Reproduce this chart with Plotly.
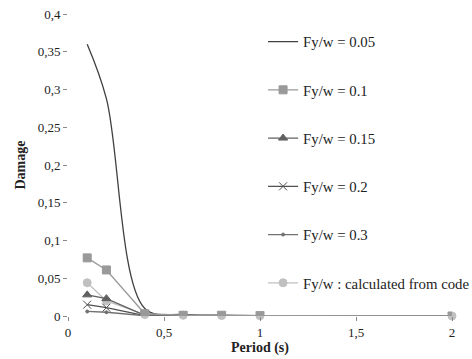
import plotly.graph_objects as go

period = [0.1, 0.2, 0.4, 0.6, 0.8, 1.0, 2.0]
d_005 = [0.360, 0.288, 0.010, 0.002, 0.001, 0.0005, 0.0]
d_010 = [0.077, 0.061, 0.003, 0.001, 0.001, 0.0005, 0.0]
d_015 = [0.028, 0.023, 0.001, 0.0005, 0.0003, 0.0002, 0.0]
d_020 = [0.015, 0.011, 0.0005, 0.0003, 0.0002, 0.0001, 0.0]
d_030 = [0.006, 0.005, 0.0003, 0.0002, 0.0001, 0.0001, 0.0]
d_code = [0.044, 0.020, 0.002, 0.001, 0.0005, 0.0003, 0.0]

y_ticks = [0, 0.05, 0.1, 0.15, 0.2, 0.25, 0.3, 0.35, 0.4]
y_text = ["0", "0,05", "0,1", "0,15", "0,2", "0,25", "0,3", "0,35", "0,4"]
x_ticks = [0, 0.5, 1, 1.5, 2]
x_text = ["0", "0,5", "1", "1,5", "2"]

FONT = "Liberation Serif, Times New Roman, serif"

fig = go.Figure()
traces = [
    ("Fy/w = 0.05", d_005, "#404040", None, 0, "spline", 1),
    ("Fy/w = 0.1", d_010, "#999999", "square", 8, "linear", 3),
    ("Fy/w = 0.15", d_015, "#606060", "triangle-up", 8, "linear", 2),
    ("Fy/w = 0.2", d_020, "#505050", "x-thin-open", 8, "linear", 2),
    ("Fy/w = 0.3", d_030, "#707070", "circle", 3, "linear", 2),
    ("Fy/w : calculated from code", d_code, "#c0c0c0", "circle", 8, "linear", 0),
]
for name, y, col, sym, msize, shape, z in traces:
    mode = "lines" if sym is None else "lines+markers"
    marker = dict(color=col, size=msize, symbol=sym if sym else "circle",
                  line=dict(color=col, width=1))
    fig.add_trace(go.Scatter(
        x=period, y=y, name=name, mode=mode,
        line=dict(color=col, width=1.3, shape=shape, smoothing=1.0),
        marker=marker, legendgroup=name, zorder=z,
        cliponaxis=False,
    ))

fig.update_layout(
    width=472, height=359,
    margin=dict(l=68, r=20, t=14, b=43, autoexpand=False),
    paper_bgcolor="white", plot_bgcolor="white",
    font=dict(family=FONT, size=13, color="#222222"),
    showlegend=True,
    legend=dict(x=0.508, y=0.962, xanchor="left", yanchor="top",
                bgcolor="rgba(0,0,0,0)", tracegroupgap=26,
                font=dict(family=FONT, size=14.8, color="#222222"),
                traceorder="grouped", itemwidth=30),
    xaxis=dict(range=[0, 2], tickvals=x_ticks, ticktext=x_text,
               showgrid=False, zeroline=False, showline=True,
               linecolor="#888888", linewidth=1, ticks="outside",
               ticklen=4, tickcolor="#888888",
               tickfont=dict(family=FONT, size=13),
               title=dict(text="<b>Period (s)</b>", font=dict(family=FONT, size=14), standoff=0)),
    yaxis=dict(range=[0, 0.4], tickvals=y_ticks, ticktext=y_text,
               showgrid=False, zeroline=False, showline=True,
               linecolor="#888888", linewidth=1, ticks="outside",
               ticklen=4, tickcolor="#888888",
               tickfont=dict(family=FONT, size=13),
               title=dict(text="<b>Damage</b>", font=dict(family=FONT, size=14), standoff=8)),
)

fig.write_html("out.html")
